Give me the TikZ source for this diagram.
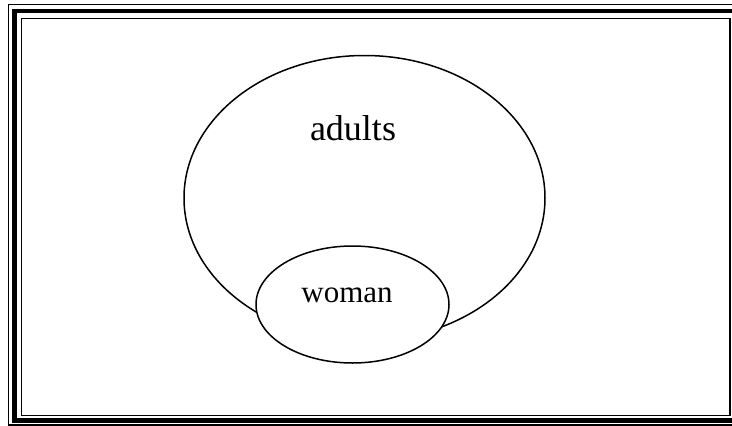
\documentclass[tikz,border=0pt]{standalone}
\usepackage{fontspec}
\setmainfont{Liberation Serif}
\usetikzlibrary{shapes.geometric, positioning}

\begin{document}
\begin{tikzpicture}[
    x=1pt, y=-1pt,
    set/.style={draw, ellipse, line width=1.5pt, inner sep=0pt},
    setlabel/.style={anchor=base, inner sep=0pt},
    thinframe/.style={draw, line width=1.4pt},
    thickframe/.style={draw, line width=4.6pt}
]
\useasboundingbox (0,0) rectangle (732,426);
\clip (0,0) rectangle (732,426);
% triple frame, cut off at the right and bottom
\draw[thinframe] (8.5,4.5) rectangle (745,424.8);
\draw[thickframe] (14.2,11) rectangle (740,420.5);
\draw[thinframe] (21.6,18.6) rectangle (730,415.5);
% the two sets
\node[set, minimum width=361pt, minimum height=285pt] (adults) at (364.5,198) {};
\node[set, fill=white, minimum width=193pt, minimum height=117pt] (woman) at (352.5,304.5) {};
\node[setlabel, font=\fontsize{36}{42}\selectfont] (adultslabel) at (353,140) {adults};
\node[setlabel, font=\fontsize{31}{36}\selectfont] (womanlabel) at (347,302) {woman};
\end{tikzpicture}
\end{document}
